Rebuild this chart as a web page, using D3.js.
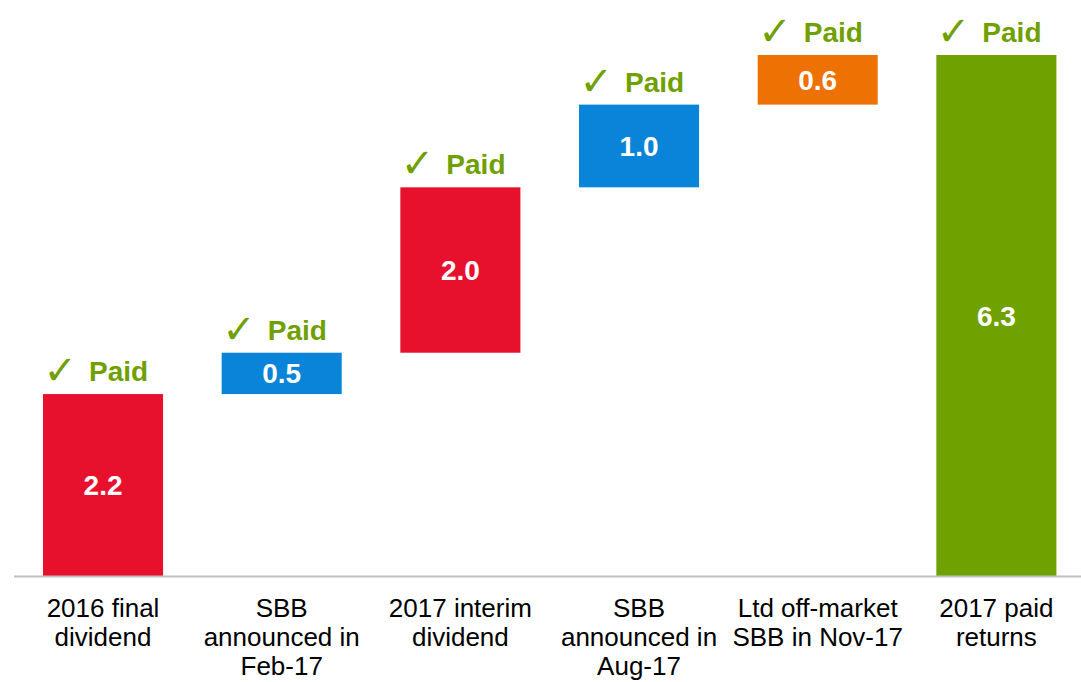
<!DOCTYPE html>
<html>
<head>
<meta charset="utf-8">
<script src="https://cdn.jsdelivr.net/npm/d3@7"></script>
<style>
  body { margin: 0; background: #fff; }
  svg { display: block; font-family: "Liberation Sans", Arial, sans-serif; }
</style>
</head>
<body>
<svg id="chart" width="1081" height="682"></svg>
<script>
// chart data
const categories = [
  ["2016 final", "dividend"],
  ["SBB", "announced in", "Feb-17"],
  ["2017 interim", "dividend"],
  ["SBB", "announced in", "Aug-17"],
  ["Ltd off-market", "SBB in Nov-17"],
  ["2017 paid", "returns"]
];
const values = [2.2, 0.5, 2.0, 1.0, 0.6, 6.3];
const isTotal = [false, false, false, false, false, true];
const barColors = ["#e8112d", "#0a84d8", "#e8112d", "#0a84d8", "#ee7203", "#6fa200"];
const statusLabel = "Paid";

let svg = d3.select("#chart");
const baseY = 576;

// build waterfall start / end from the values
let running = 0;
let bars = values.map((v, i) => {
  let start = isTotal[i] ? 0 : running;
  let end = isTotal[i] ? v : running + v;
  if (!isTotal[i]) running = end;
  return { i: i, value: v, start: start, end: end };
});

let xScale = d3.scaleBand()
  .domain(d3.range(categories.length))
  .range([13.7, 1085.7])
  .paddingInner(0.328)
  .paddingOuter(0.164);

let yScale = d3.scaleLinear()
  .domain([0, 6.3])
  .range([baseY, 55]);

// bars
svg.selectAll("rect.bar")
  .data(bars)
  .enter()
  .append("rect")
  .attr("class", "bar")
  .attr("x", d => xScale(d.i))
  .attr("width", xScale.bandwidth())
  .attr("y", d => yScale(d.end))
  .attr("height", d => yScale(d.start) - yScale(d.end))
  .attr("fill", d => barColors[d.i]);

// baseline
svg.append("line")
  .attr("x1", 14).attr("x2", 1081)
  .attr("y1", baseY + 0.5).attr("y2", baseY + 0.5)
  .attr("stroke", "#c0c0c0")
  .attr("stroke-width", 2);

// value labels inside bars
svg.selectAll("text.value")
  .data(bars)
  .enter()
  .append("text")
  .attr("class", "value")
  .attr("x", d => xScale(d.i) + xScale.bandwidth() / 2)
  .attr("y", d => (yScale(d.start) + yScale(d.end)) / 2)
  .attr("dy", "0.36em")
  .attr("text-anchor", "middle")
  .attr("fill", "white")
  .attr("font-weight", "bold")
  .attr("font-size", "28px")
  .text(d => d.value.toFixed(1));

// "Paid" status above each bar
let status = svg.selectAll("g.status")
  .data(bars)
  .enter()
  .append("g")
  .attr("class", "status")
  .attr("transform", d => "translate(" + (xScale(d.i) + xScale.bandwidth() / 2) + "," + (yScale(d.end) - 13) + ")");

status.append("text")
  .attr("x", -26)
  .attr("text-anchor", "end")
  .attr("fill", "#6fa000")
  .attr("font-family", "DejaVu Sans")
  .attr("font-weight", "bold")
  .attr("font-size", "40px")
  .attr("y", 3)
  .text("\u2713");

status.append("text")
  .attr("x", -14)
  .attr("fill", "#6fa000")
  .attr("font-weight", "bold")
  .attr("font-size", "28px")
  .text(statusLabel);

// category labels
let cat = svg.selectAll("text.cat")
  .data(categories)
  .enter()
  .append("text")
  .attr("class", "cat")
  .attr("text-anchor", "middle")
  .attr("font-size", "26px")
  .attr("fill", "#000");

cat.selectAll("tspan")
  .data((d, i) => d.map(line => ({ line: line, i: i })))
  .enter()
  .append("tspan")
  .attr("x", d => xScale(d.i) + xScale.bandwidth() / 2)
  .attr("y", (d, j) => 617 + j * 29)
  .text(d => d.line);
</script>
</body>
</html>
